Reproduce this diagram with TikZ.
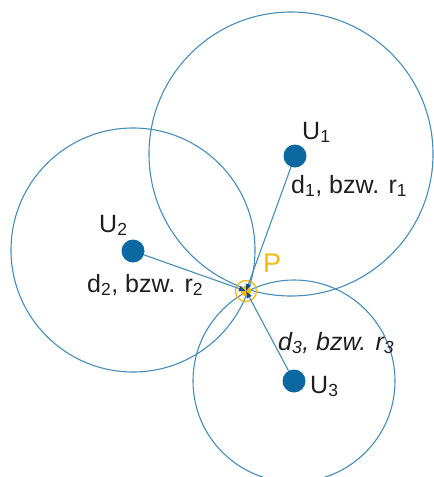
\documentclass[tikz,border=0pt]{standalone}
\usepackage{fontspec}
\setmainfont{Liberation Sans}
\usetikzlibrary{arrows.meta}
\definecolor{ringblue}{RGB}{70,140,185}
\definecolor{dotblue}{RGB}{12,104,160}
\definecolor{tipblue}{RGB}{10,80,130}
\definecolor{pyellow}{RGB}{245,185,20}
\definecolor{txt}{RGB}{30,30,30}
\tikzset{
  rangecircle/.style={draw=ringblue, line width=1.1pt},
  station/.style={circle, fill=dotblue, inner sep=0pt, minimum size=23pt},
  radline/.style={draw=ringblue, line width=1.1pt, -{Latex[length=7pt,width=6pt,color=tipblue]}},
  lbl/.style={anchor=base west, inner sep=0pt, text=txt, font=\fontsize{25}{28}\selectfont},
}
\begin{document}
\begin{tikzpicture}[x=1pt,y=-1pt]
\useasboundingbox (0,0) rectangle (434,477);
% range circles
\draw[rangecircle] (291,154) circle[radius=142];
\draw[rangecircle] (133,250) circle[radius=122];
\draw[rangecircle] (294,381) circle[radius=101];
% stations
\node[station] (u1) at (295,156) {};
\node[station] (u2) at (133,251) {};
\node[station] (u3) at (294,381) {};
\coordinate (p) at (246,291);
% P marker
\fill[pyellow] (p) circle[radius=5.5];
\draw[pyellow, line width=1.3pt] (p) circle[radius=10.5];
% radius lines
\draw[radline] (u1) -- (p);
\draw[radline] (u2) -- (p);
\draw[radline] (u3) -- (p);
% labels
\node[lbl] (lu1) at (302,139) {U\textsubscript{1}};
\node[lbl] (ld1) at (291,193) {d\textsubscript{1}, bzw. r\textsubscript{1}};
\node[lbl] (lu2) at (99,232) {U\textsubscript{2}};
\node[lbl] (ld2) at (87,292) {d\textsubscript{2}, bzw. r\textsubscript{2}};
\node[lbl, font=\fontsize{25}{28}\selectfont\itshape] (ld3) at (278,350) {d\textsubscript{3}, bzw. r\textsubscript{3}};
\node[lbl] (lu3) at (310,393) {U\textsubscript{3}};
\node[lbl, text=pyellow, font=\fontsize{27}{30}\selectfont] (lp) at (263,272) {P};
\end{tikzpicture}
\end{document}
